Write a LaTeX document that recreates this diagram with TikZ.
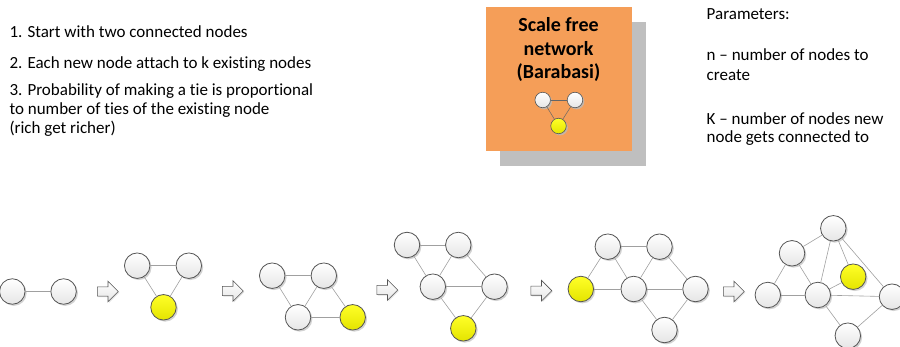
\documentclass[tikz,border=0pt]{standalone}
\usepackage{fontspec}
\setmainfont[Ligatures={NoCommon}]{Carlito}
\usetikzlibrary{shadows,shapes.arrows}
\definecolor{orangebox}{RGB}{245,158,88}
\definecolor{shadowgray}{RGB}{191,191,191}
\definecolor{nodeborder}{RGB}{85,85,85}
\definecolor{edgegray}{RGB}{160,160,160}
\definecolor{ytop}{RGB}{255,255,40}
\definecolor{ybot}{RGB}{228,228,0}
\begin{document}
\begin{tikzpicture}[x=1pt,y=-1pt,
  nd/.style={circle, minimum size=25.5pt, inner sep=0pt, draw=nodeborder, line width=0.8pt,
    top color=white, bottom color=black!10,
    drop shadow={shadow xshift=1.6pt, shadow yshift=-1.6pt, fill=black!25, opacity=0.7}},
  ynd/.style={nd, top color=ytop, bottom color=ybot},
  snd/.style={nd, minimum size=15.5pt, line width=0.6pt,
    drop shadow={shadow xshift=1pt, shadow yshift=-1pt, fill=black!30, opacity=0.6}},
  synd/.style={snd, top color=ytop, bottom color=ybot},
  lnk/.style={draw=edgegray, line width=0.6pt},
  slnk/.style={draw=black!60, line width=0.5pt},
  blockarr/.style={single arrow, draw=nodeborder, line width=0.6pt, minimum height=21pt,
    inner sep=4.3pt, single arrow head extend=5.7pt, top color=white, bottom color=black!10,
    drop shadow={shadow xshift=1pt, shadow yshift=-1pt, fill=black!20, opacity=0.6}},
  txt/.style={font=\fontsize{17}{19}\selectfont, inner sep=0pt, align=left},
  ttl/.style={font=\fontsize{20}{24}\selectfont\bfseries, inner sep=0pt, align=center}
]
\useasboundingbox (0,0) rectangle (900,347);

% left description
\node[txt, anchor=base west] (t1) at (9.3,37.5) {1. Start with two connected nodes};
\node[txt, anchor=base west] (t2) at (9.3,69) {2. Each new node attach to k existing nodes};
\node[txt, anchor=base west] (t3) at (9.3,95.5) {3. Probability of making a tie is proportional};
\node[txt, anchor=base west] (t3b) at (9.3,114.5) {to number of ties of the existing node};
\node[txt, anchor=base west] (t3c) at (9.3,133.5) {(rich get richer)};

% parameters
\node[txt, anchor=base west] (p0) at (706.5,19.3) {Parameters:};
\node[txt, anchor=base west] (p1) at (706.5,61) {n -- number of nodes to};
\node[txt, anchor=base west] (p1b) at (706.5,80.5) {create};
\node[txt, anchor=base west] (p2) at (706.5,124.3) {K -- number of nodes new};
\node[txt, anchor=base west] (p2b) at (706.5,143) {node gets connected to};

% title box
\fill[shadowgray] (500,21.7) rectangle (645.7,165.7);
\fill[orangebox] (486,6.7) rectangle (631.7,150.7);
\node[ttl, anchor=base] (h1) at (558.5,31.7) {Scale free};
\node[ttl, anchor=base] (h2) at (558.5,55.2) {network};
\node[ttl, anchor=base] (h3) at (558.5,78.2) {(Barabasi)};
\node[snd] (i1) at (542.7,100) {};
\node[snd] (i2) at (575,100) {};
\node[synd] (i3) at (558.5,126) {};
\draw[slnk] (i1) -- (i2);
\draw[slnk] (i1) -- (i3);
\draw[slnk] (i2) -- (i3);

% arrows
\node[blockarr] (a1) at (105.5,291.5) {};
\node[blockarr] (a2) at (230.5,291) {};
\node[blockarr] (a3) at (385,290) {};
\node[blockarr] (a4) at (539,290.7) {};
\node[blockarr] (a5) at (731.5,291.5) {};

% graph 1
\node[nd] (g1a) at (12.3,291.5) {};
\node[nd] (g1b) at (63.6,291.5) {};
\draw[lnk] (g1a) -- (g1b);

% graph 2
\node[nd] (g2a) at (137.2,265.7) {};
\node[nd] (g2b) at (188.8,265.7) {};
\node[ynd] (g2c) at (163.5,307.3) {};
\draw[lnk] (g2a) -- (g2b);
\draw[lnk] (g2a) -- (g2c);
\draw[lnk] (g2b) -- (g2c);

% graph 3
\node[nd] (g3a) at (272.2,275.7) {};
\node[nd] (g3b) at (323.8,275.7) {};
\node[nd] (g3c) at (298,317.3) {};
\node[ynd] (g3d) at (352.7,317.3) {};
\draw[lnk] (g3a) -- (g3b);
\draw[lnk] (g3a) -- (g3c);
\draw[lnk] (g3b) -- (g3c);
\draw[lnk] (g3b) -- (g3d);
\draw[lnk] (g3c) -- (g3d);

% graph 4
\node[nd] (g4a) at (407,245) {};
\node[nd] (g4b) at (458.3,245) {};
\node[nd] (g4c) at (432.8,286.7) {};
\node[nd] (g4d) at (494.5,286.7) {};
\node[ynd] (g4e) at (463.3,328.3) {};
\draw[lnk] (g4a) -- (g4b);
\draw[lnk] (g4a) -- (g4c);
\draw[lnk] (g4b) -- (g4c);
\draw[lnk] (g4b) -- (g4d);
\draw[lnk] (g4c) -- (g4d);
\draw[lnk] (g4c) -- (g4e);
\draw[lnk] (g4d) -- (g4e);

% graph 5
\node[ynd] (g5a) at (580.8,289) {};
\node[nd] (g5b) at (607.8,246.7) {};
\node[nd] (g5c) at (659.5,246.7) {};
\node[nd] (g5d) at (633.7,289) {};
\node[nd] (g5e) at (695.5,289) {};
\node[nd] (g5f) at (664.5,330) {};
\draw[lnk] (g5b) -- (g5c);
\draw[lnk] (g5b) -- (g5a);
\draw[lnk] (g5b) -- (g5d);
\draw[lnk] (g5c) -- (g5d);
\draw[lnk] (g5c) -- (g5e);
\draw[lnk] (g5a) -- (g5d);
\draw[lnk] (g5d) -- (g5e);
\draw[lnk] (g5d) -- (g5f);
\draw[lnk] (g5e) -- (g5f);

% graph 6
\node[nd] (g6a) at (767.8,295) {};
\node[nd] (g6b) at (792,253.3) {};
\node[nd] (g6c) at (833.3,228.3) {};
\node[ynd] (g6d) at (853.2,276.7) {};
\node[nd] (g6e) at (817.8,295) {};
\node[nd] (g6f) at (892,296.7) {};
\node[nd] (g6g) at (847.8,335.7) {};
\draw[lnk] (g6b) -- (g6c);
\draw[lnk] (g6b) -- (g6a);
\draw[lnk] (g6b) -- (g6e);
\draw[lnk] (g6c) -- (g6e);
\draw[lnk] (g6c) -- (g6d);
\draw[lnk] (g6c) -- (g6f);
\draw[lnk] (g6d) -- (g6e);
\draw[lnk] (g6a) -- (g6e);
\draw[lnk] (g6e) -- (g6f);
\draw[lnk] (g6e) -- (g6g);
\draw[lnk] (g6g) -- (g6f);
\end{tikzpicture}
\end{document}
